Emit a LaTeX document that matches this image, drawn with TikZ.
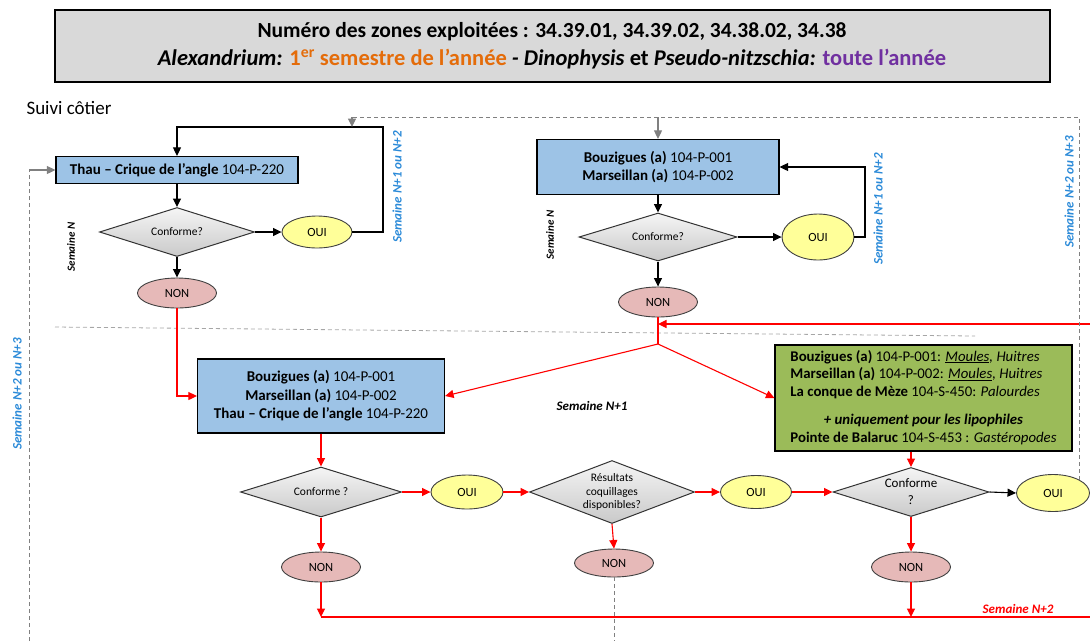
\documentclass[tikz,border=0pt]{standalone}
\usepackage{fontspec}
\setmainfont{Carlito}
\usetikzlibrary{shapes.geometric,arrows.meta}
\definecolor{boxblue}{HTML}{9DC3E6}
\definecolor{boxgreen}{HTML}{9BBB59}
\definecolor{ouiyel}{HTML}{FFFF99}
\definecolor{nonpink}{HTML}{E6B9B8}
\definecolor{titlegray}{HTML}{D9D9D9}
\definecolor{linegray}{HTML}{808080}
\definecolor{weekblue}{HTML}{2B8AD8}
\definecolor{semorange}{HTML}{E46C0A}
\definecolor{allpurple}{HTML}{7030A0}
\definecolor{flowred}{HTML}{FF0000}

\begin{document}
\begin{tikzpicture}[x=1pt,y=-1pt,>={Triangle[length=8.5pt,width=8pt]},
  bluebox/.style={draw,line width=1.2pt,fill=boxblue,align=center,inner sep=0pt,
    font=\fontsize{15}{18.5}\selectfont},
  decision/.style={diamond,draw=black!80,line width=1pt,top color=gray!8,bottom color=gray!42,
    aspect=3,inner sep=0pt,align=center,font=\fontsize{11.5}{13.5}\selectfont},
  ouiell/.style={ellipse,draw=black!75,line width=0.9pt,fill=ouiyel,inner sep=0pt,
    font=\fontsize{12.5}{15}\selectfont},
  nonell/.style={ellipse,draw=black!75,line width=0.9pt,fill=nonpink,inner sep=0pt,
    minimum width=79pt,minimum height=30pt,font=\fontsize{12.5}{15}\selectfont},
  flow/.style={->,draw=black,line width=1.1pt},
  redflow/.style={->,draw=flowred,line width=1.1pt},
  greyflow/.style={->,draw=linegray,line width=1.1pt},
  greydash/.style={draw=linegray,line width=0.8pt,dash pattern=on 4pt off 3pt},
  weeklbl/.style={rotate=90,font=\fontsize{11}{13}\selectfont\bfseries\itshape},
  bluelbl/.style={rotate=90,text=weekblue,font=\fontsize{13}{15}\selectfont\bfseries\itshape}]
  \useasboundingbox (0,0) rectangle (1090,641);
  % ----- title -----
  \node[draw,line width=2.6pt,fill=titlegray,minimum width=995pt,minimum height=72pt,inner sep=0pt]
    (title) at (552.5,46) {};
  \node[font=\fontsize{21.5}{25}\selectfont\bfseries] (titleA) at (552,32)
    {Numéro des zones exploitées : 34.39.01, 34.39.02, 34.38.02, 34.38};
  \node[font=\fontsize{22.5}{25}\selectfont\bfseries] (titleB) at (552,59)
    {\textit{Alexandrium:} \textcolor{semorange}{1\textsuperscript{er} semestre de l’année} \textit{-
     Dinophysis} et \textit{Pseudo-nitzschia:} \textcolor{allpurple}{toute l’année}};
  \node[anchor=west,font=\fontsize{19}{22}\selectfont] (suivi) at (23,108) {Suivi côtier};

  % ----- semaine N, Thau -----
  \node[bluebox,minimum width=242pt,minimum height=27pt] (box1) at (177,170)
    {\textbf{Thau – Crique de l’angle} 104-P-220};
  \node[decision,minimum width=155pt,minimum height=49pt] (dia1) at (177,232) {Conforme?};
  \node[ouiell,minimum width=70pt,minimum height=32pt] (oui1) at (317,232) {OUI};
  \node[nonell] (non1) at (177,293) {NON};
  \coordinate (lp1) at (383,127);
  \draw[flow] (box1.south) -- (dia1.north);
  \draw[flow] (dia1.east) -- (oui1.west);
  \draw[flow] (dia1.south) -- (non1.north);
  \draw[flow] (oui1.east) -| (lp1) -| (box1.north);
  \node[weeklbl] (semN1) at (71,247) {Semaine N};
  \node[bluelbl] (semA) at (397,187) {Semaine N+1 ou N+2};

  % ----- semaine N, Bouzigues / Marseillan -----
  \node[bluebox,minimum width=242pt,minimum height=55pt] (box2) at (658,167)
    {\textbf{Bouzigues (a)} 104-P-001\\ \textbf{Marseillan (a)} 104-P-002};
  \node[decision,minimum width=158pt,minimum height=48pt] (dia2) at (658,237) {Conforme?};
  \node[ouiell,minimum width=72pt,minimum height=46pt] (oui2) at (818,237) {OUI};
  \node[nonell] (non2) at (658,302) {NON};
  \coordinate (lp2) at (865,167);
  \draw[flow] (box2.south) -- (dia2.north);
  \draw[flow] (dia2.east) -- (oui2.west);
  \draw[flow] (dia2.south) -- (non2.north);
  \draw[flow] (oui2.east) -| (lp2) -- (box2.east);
  \node[weeklbl] (semN2) at (550,235) {Semaine N};
  \node[bluelbl] (semB) at (878,209) {Semaine N+1 ou N+2};
  \node[bluelbl] (semC) at (1069,192) {Semaine N+2 ou N+3};
  \node[bluelbl] (semD) at (17,394) {Semaine N+2 ou N+3};

  % ----- separator -----
  \draw[greydash,draw=gray!70] (55,327) -- (975,336);

  % ----- semaine N+1 -----
  \node[bluebox,minimum width=247pt,minimum height=74pt] (box3) at (321,396)
    {\textbf{Bouzigues (a)} 104-P-001\\ \textbf{Marseillan (a)} 104-P-002\\
     \textbf{Thau – Crique de l’angle} 104-P-220};
  \node[draw,line width=1.2pt,fill=boxgreen,minimum width=297pt,minimum height=106pt,inner sep=0pt,
    font=\fontsize{14.8}{17.5}\selectfont] (green) at (923.5,398)
    {\begin{tabular}{@{}l@{}}
     \textbf{Bouzigues (a)} 104-P-001: \textit{\underline{Moules}, Huitres}\\
     \textbf{Marseillan (a)} 104-P-002: \textit{\underline{Moules}, Huitres}\\
     \textbf{La conque de Mèze} 104-S-450: \textit{Palourdes}\\[11pt]
     \multicolumn{1}{@{}c@{}}{\textbf{\textit{+ uniquement pour les lipophiles}}}\\
     \textbf{Pointe de Balaruc} 104-S-453 : \textit{Gastéropodes}
     \end{tabular}};
  \node[font=\fontsize{13}{15}\selectfont\bfseries\itshape] (semN3) at (592,406) {Semaine N+1};
  \coordinate (redR) at (1090,324);
  \coordinate (br) at (658,344);
  \draw[redflow,-] (non2.south) -- (br);
  \draw[redflow] (redR) -- (redR -| br);
  \draw[redflow] (br) -- (box3.east);
  \draw[redflow] (br) -- (green.west);
  \draw[redflow] (non1.south) |- (box3.west);

  % ----- results row -----
  \node[decision,minimum width=161pt,minimum height=50pt] (dia3) at (321,492) {Conforme ?};
  \node[ouiell,minimum width=72pt,minimum height=34pt] (oui3) at (467,492) {OUI};
  \node[decision,aspect=2.6,minimum width=165pt,minimum height=63pt] (dia4) at (612,492)
    {Résultats\\coquillages\\disponibles?};
  \node[ouiell,minimum width=71pt,minimum height=33pt] (oui4) at (756,492) {OUI};
  \node[decision,font=\fontsize{13}{17}\selectfont,minimum width=156pt,minimum height=49pt]
    (dia5) at (911,492) {Conforme\\?};
  \node[ouiell,minimum width=73pt,minimum height=37pt] (oui5) at (1053,493) {OUI};
  \node[nonell] (non3) at (321,567) {NON};
  \node[nonell,minimum height=28pt] (non4) at (614,563) {NON};
  \node[nonell] (non5) at (911,567) {NON};
  \draw[redflow] (box3.south) -- (dia3.north);
  \draw[redflow] (dia5.north |- green.south) -- (dia5.north);
  \draw[redflow] (dia3.east) -- (oui3.west);
  \draw[redflow] (oui3.east) -- (dia4.west);
  \draw[redflow] (dia4.east) -- (oui4.west);
  \draw[redflow] (oui4.east) -- (dia5.west);
  \draw[flow] (dia5.east) -- (oui5.west);
  \draw[redflow] (dia3.south) -- (non3.north);
  \draw[redflow] (dia4.south) -- (non4.north);
  \draw[redflow] (dia5.south) -- (non5.north);

  % ----- semaine N+2 -----
  \coordinate (botR) at (1090,617);
  \coordinate (leftB) at (29,641);
  \draw[redflow] (non3.south) -- (non3.south |- botR);
  \draw[redflow,-] (non3.south |- botR) -- (botR);
  \draw[redflow] (non5.south) -- (non5.south |- botR);
  \node[text=flowred,font=\fontsize{13}{15}\selectfont\bfseries\itshape] (semN4) at (1018,609) {Semaine N+2};
  \draw[greydash] (non4.south) -- (non4.south |- leftB);

  % ----- grey returns -----
  \coordinate (topL) at (352,117);
  \draw[greydash] (oui5.north east) |- (topL);
  \draw[greyflow] (topL) -- (topL |- lp1);
  \draw[greyflow] (topL -| box2.north) -- (box2.north);
  \draw[greydash] (leftB) -- (leftB |- box1.west);
  \draw[greyflow] (leftB |- box1.west) -- (box1.west);
\end{tikzpicture}
\end{document}
